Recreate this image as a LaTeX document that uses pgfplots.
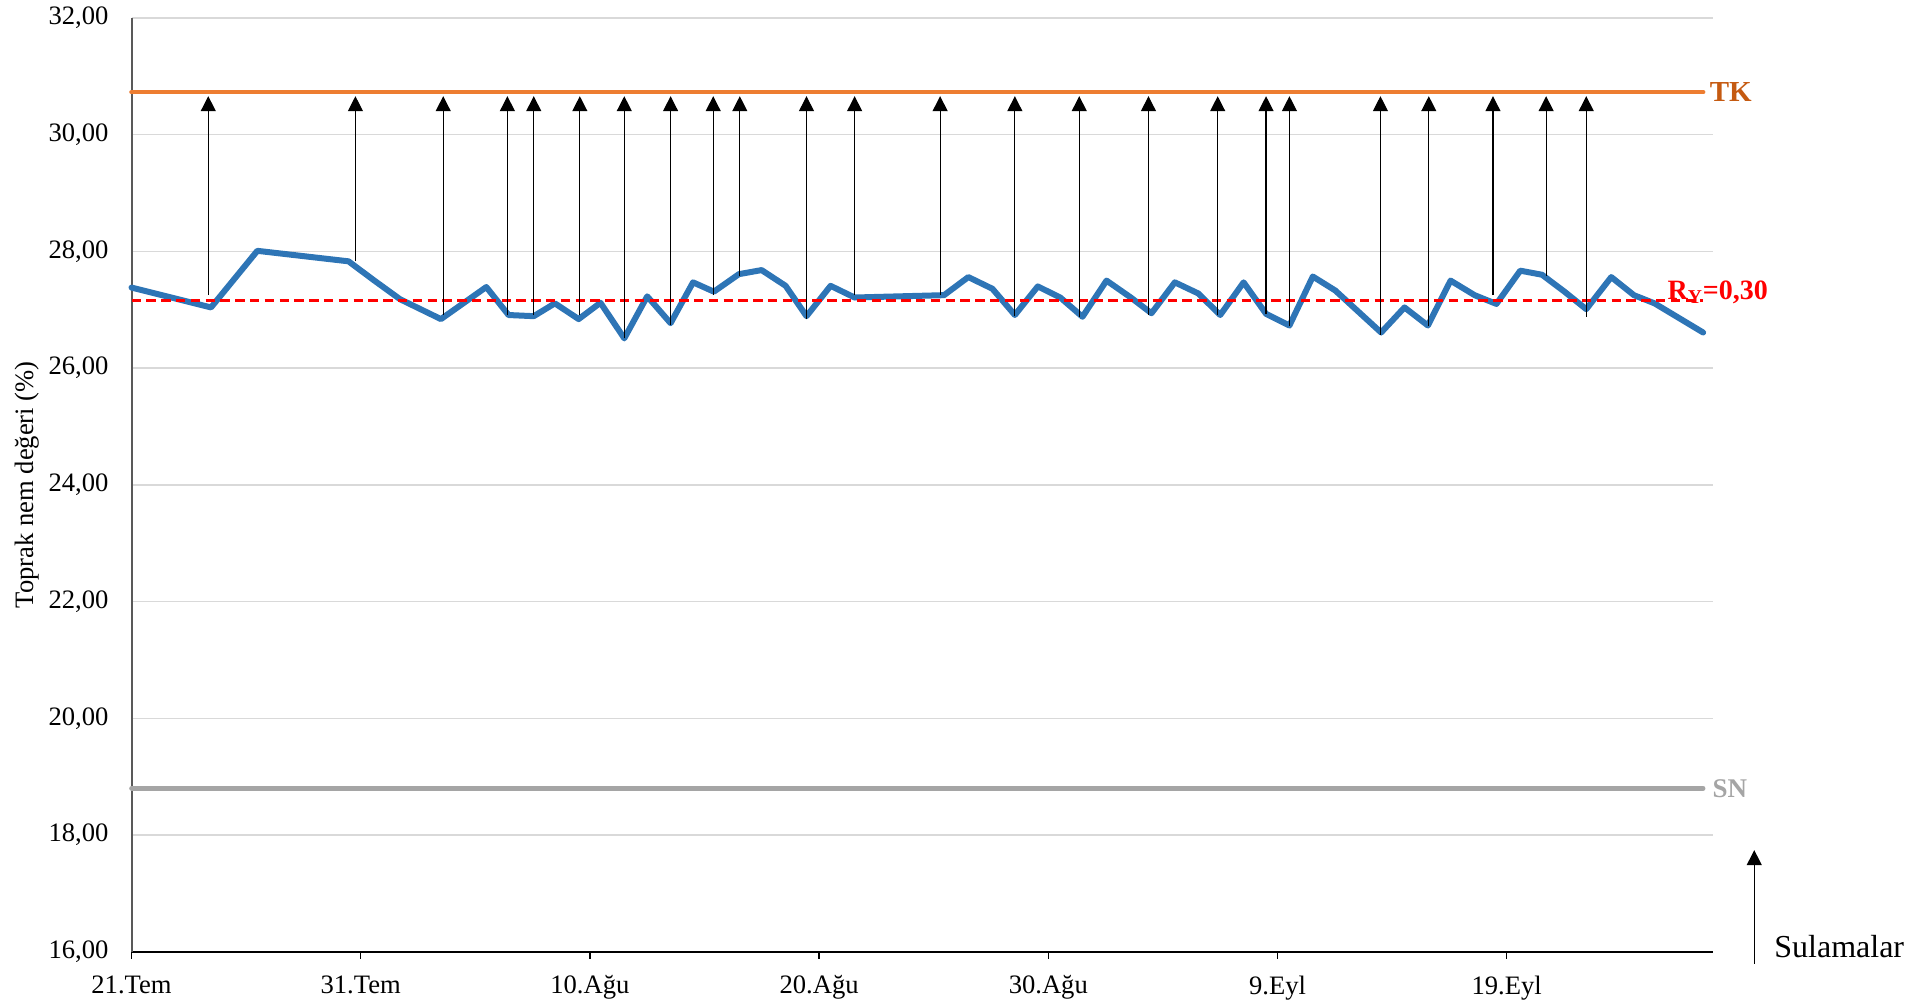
\documentclass[border=0pt]{standalone}
\usepackage{fontspec}
\setmainfont{Liberation Serif}
\usepackage{pgfplots}
\usepackage{pgfplotstable}
\pgfplotsset{compat=1.18}
\usetikzlibrary{arrows.meta}
\definecolor{myblue}{RGB}{46,117,182}
\definecolor{myorange}{RGB}{237,125,49}
\definecolor{tkorange}{RGB}{197,90,17}
\definecolor{mygray}{RGB}{165,165,165}
\definecolor{gridgray}{RGB}{217,217,217}
\definecolor{axisgray}{RGB}{89,89,89}

\pgfplotstableread{
x y
0 27.38
3.47 27.04
5.49 28.01
9.47 27.83
10.56 27.51
11.72 27.18
13.5 26.84
15.48 27.39
16.45 26.91
17.55 26.89
18.47 27.11
19.51 26.84
20.46 27.12
21.5 26.51
22.5 27.23
23.52 26.77
24.5 27.47
25.41 27.31
26.5 27.61
27.49 27.68
28.54 27.41
29.45 26.89
30.5 27.41
31.55 27.21
35.45 27.25
36.51 27.56
37.56 27.36
38.54 26.91
39.54 27.40
40.52 27.21
41.49 26.88
42.54 27.50
43.6 27.21
44.5 26.94
45.52 27.47
46.54 27.28
47.5 26.91
48.52 27.47
49.5 26.93
50.52 26.73
51.54 27.57
52.52 27.33
54.52 26.61
55.54 27.04
56.56 26.73
57.55 27.50
58.6 27.25
59.55 27.10
60.59 27.67
61.54 27.60
62.52 27.31
63.47 27.01
64.56 27.56
65.55 27.25
66.45 27.11
68.57 26.61
}\moisture

\pgfplotstableread{
x y
3.35 27.25
9.77 27.83
13.6 26.91
16.4 26.91
17.55 26.91
19.56 26.91
21.5 26.51
23.52 26.74
25.38 27.25
26.54 27.58
29.45 26.85
31.55 27.25
35.28 27.25
38.54 26.89
41.35 26.88
44.37 26.91
47.39 26.91
49.5 26.93
50.52 26.73
54.49 26.57
56.6 26.73
59.4 27.25
61.72 27.58
63.47 26.88
}\irrig

\begin{document}
\begin{tikzpicture}
\path[use as bounding box] (0,0) rectangle (966pt,502pt);
\begin{axis}[
  at={(65.75pt,26.15pt)}, anchor=south west,
  scale only axis, width=790.75pt, height=466.85pt,
  xmin=0, xmax=69, ymin=16, ymax=32,
  clip=false,
  axis x line*=bottom, axis y line*=left,
  axis line style={-},
  x axis line style={black, line width=1pt},
  y axis line style={axisgray, line width=1pt},
  ytick={16,18,...,32},
  ymajorgrids, grid style={gridgray, line width=0.75pt},
  ytick style={draw=none},
  xtick={0,10,...,60},
  xticklabels={21.Tem,31.Tem,10.Ağu,20.Ağu,30.Ağu,9.Eyl,19.Eyl},
  xtick style={black, line width=0.75pt},
  tick align=outside, major tick length=3.5pt,
  ticklabel style={font=\fontsize{13.3}{15}\selectfont},
  xticklabel style={yshift=-5pt},
  yticklabel style={xshift=-4.5pt, /pgf/number format/.cd, fixed, fixed zerofill, precision=2, use comma, assume math mode=true},
  ylabel={Toprak nem değeri (\%)},
  ylabel style={at={(axis description cs:-0.0657,0.5)}, anchor=center, font=\fontsize{13.3}{15}\selectfont},
]
\addplot[mygray, line width=2.3pt, line cap=round] coordinates {(0,18.8) (68.57,18.8)};
\addplot[myorange, line width=2.3pt, line cap=round] coordinates {(0,30.73) (68.57,30.73)};
\addplot[myblue, line width=3pt, line join=round, line cap=round] table {\moisture};
\addplot[red, line width=1.3pt, dash pattern=on 4.7pt off 2.7pt] coordinates {(0,27.16) (68.57,27.16)};
\addplot[black, line width=0.6pt, -{Triangle[width=7.5pt,length=7.5pt]}, quiver={u=0,v={30.66-\thisrow{y}}}] table {\irrig};

\node[anchor=west, inner sep=0pt, text=tkorange, font=\bfseries\fontsize{14.5}{17}\selectfont] at (axis cs:68.84,30.73) {TK};
\node[anchor=west, inner sep=0pt, text=mygray, font=\bfseries\fontsize{13.5}{16}\selectfont] at (axis cs:68.97,18.8) {SN};
\node[anchor=base west, inner sep=0pt, text=red, font=\bfseries\fontsize{14}{17}\selectfont] at (axis cs:67.0,27.18) {R\textsubscript{Y}=0,30};
\draw[black, line width=0.6pt, -{Triangle[width=7.5pt,length=7.5pt]}] (axis cs:70.8,15.79) -- (axis cs:70.8,17.74);
\node[anchor=base west, inner sep=0pt, font=\fontsize{16}{19}\selectfont] at (axis cs:71.66,15.904) {Sulamalar};
\end{axis}
\end{tikzpicture}
\end{document}
